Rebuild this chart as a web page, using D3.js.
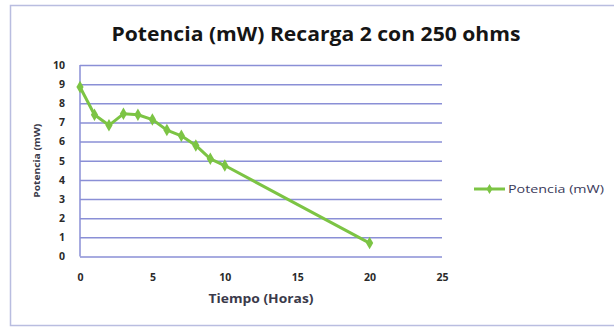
<!DOCTYPE html>
<html>
<head>
<meta charset="utf-8">
<script src="https://cdn.jsdelivr.net/npm/d3@7"></script>
<style>
  html, body { margin: 0; padding: 0; background: #fff; }
  svg { display: block; }
</style>
</head>
<body>
<svg id="chart" width="614" height="328"></svg>
<script>
// Recharge 2 through a 250 ohm load: power (mW) versus elapsed time (hours)
const horas = [0, 1, 2, 3, 4, 5, 6, 7, 8, 9, 10, 20];
const potencia = [8.85, 7.4, 6.85, 7.45, 7.4, 7.15, 6.6, 6.3, 5.8, 5.1, 4.75, 0.7];
const xTicks = [0, 5, 10, 15, 20, 25];
const yTicks = [0, 1, 2, 3, 4, 5, 6, 7, 8, 9, 10];
const titulo = "Potencia (mW) Recarga 2 con 250 ohms";
const ejeX = "Tiempo (Horas)";
const ejeY = "Potencia (mW)";
const serie = "Potencia (mW)";

const svg = d3.select("#chart");
const green = "#7cc444";
const grid = "#8a8fd6";
const font = "'Open Sans', Lato, sans-serif";

// chart frame
svg.append("rect")
  .attr("x", 10.5).attr("y", 5.5)
  .attr("width", 610).attr("height", 320)
  .attr("fill", "#fff")
  .attr("stroke", "#b9bde0").attr("stroke-width", 1.5);

const x = d3.scaleLinear().domain([0, 25]).range([80, 442]);
const y = d3.scaleLinear().domain([0, 10]).range([256.5, 65]);

// horizontal gridlines
svg.append("g")
  .attr("transform", `translate(${x(0)},0)`)
  .call(d3.axisLeft(y).tickValues(yTicks).tickSize(-(x(25) - x(0))).tickFormat(""))
  .call(g => g.select(".domain").remove())
  .call(g => g.selectAll(".tick line").attr("stroke", grid).attr("stroke-width", 1.5));

// y axis line and labels
svg.append("line")
  .attr("x1", x(0)).attr("x2", x(0))
  .attr("y1", y(10)).attr("y2", y(0))
  .attr("stroke", grid).attr("stroke-width", 1.5);

svg.append("g")
  .attr("transform", `translate(${x(0)},0)`)
  .call(d3.axisLeft(y).tickValues(yTicks).tickSize(0).tickPadding(15).tickFormat(d3.format("d")))
  .call(g => g.select(".domain").remove())
  .call(g => g.selectAll("text")
    .attr("fill", "#2a2a2a").attr("font-size", 10.5).attr("font-weight", 700)
    .attr("font-family", font));

// x axis labels
svg.append("g")
  .attr("transform", `translate(0,${y(0)})`)
  .call(d3.axisBottom(x).tickValues(xTicks).tickSize(0).tickPadding(17).tickFormat(d3.format("d")))
  .call(g => g.select(".domain").remove())
  .call(g => g.selectAll("text")
    .attr("fill", "#2a2a2a").attr("font-size", 10.5).attr("font-weight", 700)
    .attr("font-family", font));

// title
svg.append("text")
  .attr("x", 316).attr("y", 41)
  .attr("text-anchor", "middle")
  .attr("font-family", font).attr("font-weight", 700).attr("font-size", 19)
  .attr("textLength", 409).attr("lengthAdjust", "spacingAndGlyphs")
  .attr("fill", "#151515")
  .text(titulo);

// axis titles
svg.append("text")
  .attr("x", (x(0) + x(25)) / 2).attr("y", 303)
  .attr("text-anchor", "middle")
  .attr("font-family", font).attr("font-weight", 700).attr("font-size", 12)
  .attr("textLength", 105).attr("lengthAdjust", "spacingAndGlyphs")
  .attr("fill", "#3a3a4a")
  .text(ejeX);

svg.append("text")
  .attr("transform", `translate(40,${(y(0) + y(10)) / 2}) rotate(-90)`)
  .attr("text-anchor", "middle")
  .attr("font-family", font).attr("font-weight", 700).attr("font-size", 8)
  .attr("textLength", 74).attr("lengthAdjust", "spacingAndGlyphs")
  .attr("fill", "#3a3a4a")
  .text(ejeY);

// series line
const pts = horas.map((h, i) => [h, potencia[i]]);
svg.append("path")
  .datum(pts)
  .attr("d", d3.line().x(d => x(d[0])).y(d => y(d[1])))
  .attr("fill", "none")
  .attr("stroke", green).attr("stroke-width", 3)
  .attr("stroke-linejoin", "round");

// diamond markers
const diamond = d3.symbol().type(d3.symbolDiamond).size(45);
svg.append("g").selectAll("path")
  .data(pts)
  .join("path")
  .attr("transform", d => `translate(${x(d[0])},${y(d[1])})`)
  .attr("d", diamond)
  .attr("fill", green);

// legend
const lg = svg.append("g").attr("transform", "translate(474,189)");
lg.append("line").attr("x1", 0).attr("x2", 31).attr("y1", 0).attr("y2", 0)
  .attr("stroke", green).attr("stroke-width", 3);
lg.append("path").attr("transform", "translate(15.5,0)")
  .attr("d", d3.symbol().type(d3.symbolDiamond).size(30)).attr("fill", green);
lg.append("text").attr("x", 34).attr("y", 3.5)
  .attr("font-family", font).attr("font-size", 10)
  .attr("textLength", 96).attr("lengthAdjust", "spacingAndGlyphs")
  .attr("fill", "#3a3a5a")
  .text(serie);
</script>
</body>
</html>
